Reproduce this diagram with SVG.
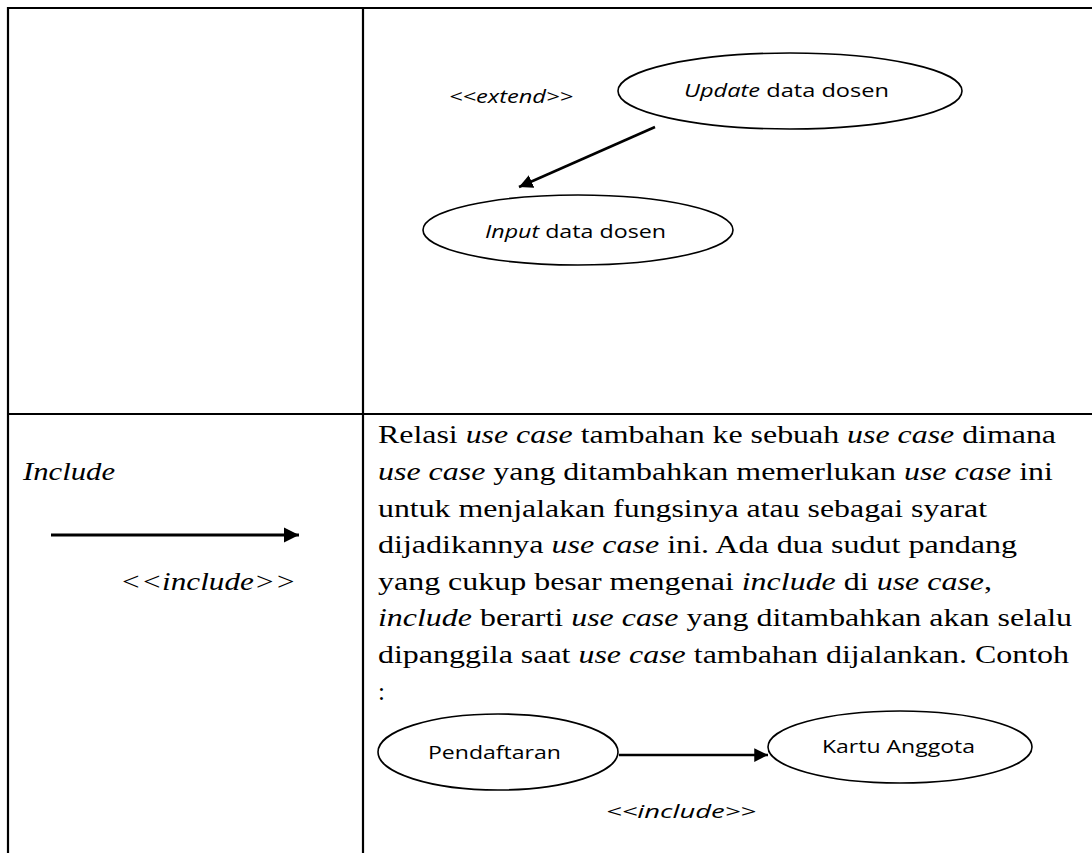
<svg xmlns="http://www.w3.org/2000/svg" width="1092" height="853" viewBox="0 0 1092 853">
<style>
.grid{stroke:#000;stroke-width:2.2;fill:none}
.uc{fill:#fff;stroke:#000;stroke-width:1.6}
.cal{font-family:"Open Sans","Liberation Sans",sans-serif;font-size:18px;fill:#000}
.tm{font-family:"Liberation Serif","Times New Roman",serif;font-size:25px;fill:#000}
.i{font-style:italic}
.conn{stroke:#000;fill:none}
</style>
<defs>
<marker id="ah" viewBox="0 0 10 10" refX="10" refY="5" markerWidth="5.5" markerHeight="5.5" markerUnits="strokeWidth" orient="auto">
<path d="M0,0 L10,5 L0,10 z" fill="#000"/>
</marker>
</defs>
<g id="table">
<line class="grid" x1="8" y1="8" x2="1092" y2="8"/>
<line class="grid" x1="8" y1="7" x2="8" y2="853"/>
<line class="grid" x1="363" y1="8" x2="363" y2="853"/>
<line class="grid" x1="8" y1="414" x2="1092" y2="414"/>
</g>
<g id="connectors">
<line class="conn" x1="655" y1="127" x2="519" y2="187" stroke-width="2.5" marker-end="url(#ah)"/>
<line class="conn" x1="51" y1="535" x2="299" y2="535" stroke-width="2.8" marker-end="url(#ah)"/>
<line class="conn" x1="619" y1="755" x2="768" y2="755" stroke-width="2.5" marker-end="url(#ah)"/>
</g>
<g id="extend-label">
<text class="cal i" x="449" y="103" textLength="124" lengthAdjust="spacingAndGlyphs">&lt;&lt;extend&gt;&gt;</text>
</g>
<g id="update-data-dosen">
<ellipse class="uc" cx="790" cy="91" rx="172" ry="38"/>
<text class="cal" x="684" y="97" textLength="205" lengthAdjust="spacingAndGlyphs"><tspan class="i">Update</tspan> data dosen</text>
</g>
<g id="input-data-dosen">
<ellipse class="uc" cx="578" cy="230" rx="155" ry="35"/>
<text class="cal" x="485" y="238" textLength="181" lengthAdjust="spacingAndGlyphs"><tspan class="i">Input</tspan> data dosen</text>
</g>
<g id="include-cell">
<text class="tm i" x="23" y="480" textLength="92" lengthAdjust="spacingAndGlyphs">Include</text>
<text class="tm i" x="120" y="590" textLength="176" lengthAdjust="spacingAndGlyphs">&lt;&lt;include&gt;&gt;</text>
</g>
<g id="description">
<text class="tm" x="378" y="443" textLength="678" lengthAdjust="spacingAndGlyphs">Relasi <tspan class="i">use case</tspan> tambahan ke sebuah <tspan class="i">use case</tspan> dimana</text>
<text class="tm" x="378" y="480" textLength="675" lengthAdjust="spacingAndGlyphs"><tspan class="i">use case</tspan> yang ditambahkan memerlukan <tspan class="i">use case</tspan> ini</text>
<text class="tm" x="378" y="517" textLength="609" lengthAdjust="spacingAndGlyphs">untuk menjalakan fungsinya atau sebagai syarat</text>
<text class="tm" x="378" y="553" textLength="639" lengthAdjust="spacingAndGlyphs">dijadikannya <tspan class="i">use case</tspan> ini. Ada dua sudut pandang</text>
<text class="tm" x="378" y="590" textLength="614" lengthAdjust="spacingAndGlyphs">yang cukup besar mengenai <tspan class="i">include</tspan> di <tspan class="i">use case</tspan>,</text>
<text class="tm" x="378" y="626" textLength="694" lengthAdjust="spacingAndGlyphs"><tspan class="i">include</tspan> berarti <tspan class="i">use case</tspan> yang ditambahkan akan selalu</text>
<text class="tm" x="378" y="663" textLength="691" lengthAdjust="spacingAndGlyphs">dipanggila saat <tspan class="i">use case</tspan> tambahan dijalankan. Contoh</text>
<text class="tm" x="378" y="700">:</text>
</g>
<g id="pendaftaran">
<ellipse class="uc" cx="498" cy="752" rx="120" ry="38"/>
<text class="cal" x="428" y="759" textLength="133" lengthAdjust="spacingAndGlyphs">Pendaftaran</text>
</g>
<g id="kartu-anggota">
<ellipse class="uc" cx="900" cy="747" rx="132" ry="36"/>
<text class="cal" x="822" y="753" textLength="153" lengthAdjust="spacingAndGlyphs">Kartu Anggota</text>
</g>
<g id="include-label">
<text class="cal i" x="606" y="818" textLength="150" lengthAdjust="spacingAndGlyphs">&lt;&lt;include&gt;&gt;</text>
</g>
</svg>
